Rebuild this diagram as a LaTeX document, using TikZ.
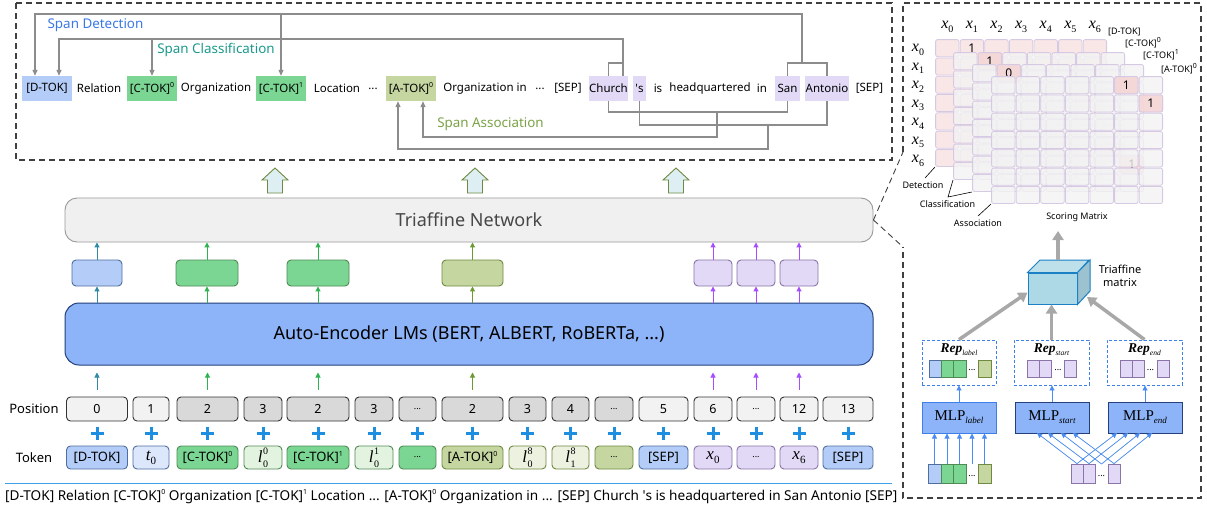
\documentclass[tikz,border=0pt]{standalone}
\usepackage{fontspec}
\setmainfont{Noto Sans}
\newfontfamily\seriffont{Liberation Serif}
\usetikzlibrary{arrows.meta}
\newcommand\fsz[1]{\fontsize{#1}{#1}\selectfont}
\newcommand\sps[1]{\raisebox{0.45em}{\fontsize{7}{7}\selectfont #1}}
\newcommand\dts{{\fsz{9}...}}
\newcommand\repx[1]{{\seriffont\bfseries\itshape\fsz{13.5}Rep}{\seriffont\itshape\fsz{7.5}\raisebox{-2.5pt}{#1}}}
\newcommand\mlpx[1]{{\seriffont\fsz{15}MLP}{\seriffont\itshape\fsz{9}\raisebox{-3pt}{#1}}}
\newcommand\ivar[4]{{\seriffont\itshape\fsz{#3}#1}{\seriffont\fsz{#4}\raisebox{-0.35em}{#2}}}
\newcommand\ivarss[5]{{\seriffont\itshape\fsz{#4}#1\kern0.5pt}{\seriffont\fsz{#5}\rlap{\raisebox{0.8em}{#3}}\raisebox{-0.45em}{#2}}}
\definecolor{cblue}{HTML}{B4CCF8}
\definecolor{cbluel}{HTML}{DCE7FC}
\definecolor{cgreen}{HTML}{7BD693}
\definecolor{cgreenl}{HTML}{E2F4E0}
\definecolor{colive}{HTML}{C5D6A0}
\definecolor{colivel}{HTML}{ECF1E0}
\definecolor{cpurp}{HTML}{E1D9F6}
\definecolor{bblue}{HTML}{4F6F9F}
\definecolor{bgreen}{HTML}{4F8A55}
\definecolor{bolive}{HTML}{6F8A40}
\definecolor{bpurp}{HTML}{8A74A8}
\definecolor{lmfill}{HTML}{8DB4F8}
\definecolor{lmdraw}{HTML}{23407A}
\definecolor{gline}{HTML}{8C8C8C}
\definecolor{ateal}{HTML}{2E8AA6}
\definecolor{agreen}{HTML}{2DB350}
\definecolor{aolive}{HTML}{6C9A32}
\definecolor{apurp}{HTML}{A64DFF}
\definecolor{plusc}{HTML}{1E8FE0}
\definecolor{pinkc}{HTML}{F9E7E7}
\definecolor{pinkd}{HTML}{F5D4D4}
\definecolor{gridc}{HTML}{D6C9E4}
\definecolor{cellg}{HTML}{F3F3F3}
\definecolor{repb}{HTML}{3C80E8}
\definecolor{blarrow}{HTML}{4A8CF0}
\definecolor{darrow}{HTML}{A8A8A8}
\definecolor{cubef}{HTML}{ADD8E6}
\definecolor{cubed}{HTML}{1C80C4}
\definecolor{spdet}{HTML}{3B78E7}
\definecolor{spcls}{HTML}{1A9A8C}
\definecolor{spass}{HTML}{7AA346}
\definecolor{hollowf}{HTML}{DDEFF3}
\definecolor{hollowd}{HTML}{6F8A40}
\definecolor{posl}{HTML}{F2F2F2}
\definecolor{posd}{HTML}{D9D9D9}
\newcommand\mtxlayer[4]{%
  \foreach \rr in {0,...,6}{\foreach \cc in {0,...,6}{%
    \filldraw[fill=#3,draw=gridc,line width=0.8pt,rounded corners=2pt,fill opacity=#4] ({#1+\cc*24.6+0.6},{#2+\rr*18.3+0.6}) rectangle ++(23.4,17.1);}}}
\newcommand\mcell[5]{%
  \filldraw[fill=#5,draw=gridc,line width=0.8pt,rounded corners=2pt,fill opacity=0.85] ({#1+#4*24.6+0.6},{#2+#3*18.3+0.6}) rectangle ++(23.4,17.1);}
\begin{document}
\begin{tikzpicture}[x=1pt,y=-1pt,
  gtip/.style={-{Triangle[length=6pt,width=5pt]}},
  gl/.style={draw=gline,line width=1.2pt},
  tk/.style={inner sep=0pt,minimum height=25pt,font=\fsz{11.5}},
  panel/.style={draw=black!75,line width=1.1pt,dash pattern=on 6pt off 4pt},
  vbox/.style={rounded corners=4pt,minimum height=26pt,inner sep=0pt,line width=0.9pt},
  posbox/.style={rounded corners=4pt,minimum height=24pt,inner sep=0pt,draw=black!80,line width=0.9pt,font=\fsz{12.5}},
  tokbox/.style={rounded corners=4pt,minimum height=23pt,inner sep=0pt,line width=0.9pt,font=\fsz{13}},
  sa/.style={line width=1pt,-{Triangle[length=5pt,width=5pt]}},
  cellbox/.style={inner sep=0pt,line width=0.8pt},
  ba/.style={draw=blarrow,line width=0.9pt,-{Triangle[length=5pt,width=5pt]}},
  bigarrow/.style={draw=darrow,line width=3.5pt,-{Triangle[length=9pt,width=11pt]}},
  lbl/.style={font=\fsz{9},inner sep=0pt},
]
\useasboundingbox (0,0) rectangle (1207,506);
\fill[white] (0,0) rectangle (1207,506);

% ---------------- top panel ----------------
\draw[panel] (16,3) rectangle (892,160);
\node[tk,fill=cblue,minimum width=50pt] (tdtok) at (47,88.5) {[D-TOK]};
\node[tk] (trel) at (99,88.5) {Relation};
\node[tk,fill=cgreen,minimum width=50pt] (tc0) at (152,88.5) {[C-TOK]\sps{0}};
\node[tk] (torg) at (216,88.5) {Organization};
\node[tk,fill=cgreen,minimum width=50pt] (tc1) at (281,88.5) {[C-TOK]\sps{1}};
\node[tk] (tloc) at (337,88.5) {Location};
\node[tk] (tdots1) at (373,88.5) {...};
\node[tk,fill=colive,minimum width=50pt] (ta0) at (411,88.5) {[A-TOK]\sps{0}};
\node[tk] (torgin) at (485,88.5) {Organization in};
\node[tk] (tdots2) at (540,88.5) {...};
\node[tk] (tsep1) at (568,88.5) {[SEP]};
\node[tk,fill=cpurp,minimum width=37pt] (tchurch) at (608.5,88.5) {Church};
\node[tk,fill=cpurp,minimum width=13pt] (tps) at (639.5,88.5) {\textquotesingle s};
\node[tk] (tis) at (658,88.5) {is};
\node[tk] (thq) at (710,88.5) {headquartered};
\node[tk] (tin) at (762,88.5) {in};
\node[tk,fill=cpurp,minimum width=25pt] (tsan) at (787.5,88.5) {San};
\node[tk,fill=cpurp,minimum width=44pt] (tant) at (827,88.5) {Antonio};
\node[tk] (tsep2) at (869.5,88.5) {[SEP]};

\node[font=\fsz{13.4},text=spdet,inner sep=0pt] (lspdet) at (95.5,25) {Span Detection};
\node[font=\fsz{13.4},text=spcls,inner sep=0pt] (lspcls) at (216,50) {Span Classification};
\node[font=\fsz{13.4},text=spass,inner sep=0pt] (lspass) at (490.5,124) {Span Association};

% detection
\draw[gl] (tsan.north) -- (787.5,63) -- (827,63) -- (tant.north);
\draw[gl,gtip] (802,63) -- (802,14) -- (35,14) -- ([xshift=-12pt]tdtok.north);
\draw[gl,gtip] (281,14) -- (tc1.north);
% classification
\draw[gl,gtip] ([xshift=14.5pt]tchurch.north) -- (623,39) -- (59,39) -- ([xshift=12pt]tdtok.north);
\draw[gl] (tchurch.north) -- (608.5,63) -- (623,63);
\draw[gl,gtip] (152,39) -- (tc0.north);
% association
\draw[gl] (tchurch.south) -- (608.5,112) -- (787.5,112) -- (tsan.south);
\draw[gl] (tps.south) -- (639.5,125) -- (827,125) -- (tant.south);
\draw[gl,gtip] (717,112) -- (717,137) -- (423,137) -- ([xshift=12pt]ta0.south);
\draw[gl,gtip] (768,125) -- (768,149) -- (398,149) -- ([xshift=-13pt]ta0.south);

% ---------------- middle ----------------
\foreach \x in {275,475,676}
  \filldraw[fill=hollowf,draw=hollowd,line width=0.9pt] (\x-7.5,193) -- (\x-7.5,180) -- (\x-13,180) -- (\x,168) -- (\x+13,180) -- (\x+7.5,180) -- (\x+7.5,193) -- cycle;

\node[draw=black!40,fill=black!6,rounded corners=12pt,minimum width=808pt,minimum height=44pt,line width=0.9pt,font=\fsz{18},text=black!72] (tri) at (469,220) {Triaffine Network};
\node[draw=lmdraw,fill=lmfill,rounded corners=14pt,minimum width=808pt,minimum height=62pt,line width=1pt,font=\fsz{18}] (lm) at (469,334) {Auto-Encoder LMs (BERT, ALBERT, RoBERTa, ...)};

\node[vbox,fill=cblue,draw=bblue,minimum width=50pt] (v1) at (97,273) {};
\node[vbox,fill=cgreen,draw=bgreen,minimum width=62pt] (v2) at (207,273) {};
\node[vbox,fill=cgreen,draw=bgreen,minimum width=62pt] (v3) at (318,273) {};
\node[vbox,fill=colive,draw=bolive,minimum width=61pt] (v4) at (472.5,273) {};
\node[vbox,fill=cpurp,draw=bpurp,minimum width=38pt] (v5) at (713,273) {};
\node[vbox,fill=cpurp,draw=bpurp,minimum width=38pt] (v6) at (756,273) {};
\node[vbox,fill=cpurp,draw=bpurp,minimum width=38pt] (v7) at (799,273) {};
\foreach \v/\cl in {v1/ateal,v2/agreen,v3/agreen,v4/aolive,v5/apurp,v6/apurp,v7/apurp}{
  \draw[sa,draw=\cl,fill=\cl] (\v.south |- lm.north) -- (\v.south);
  \draw[sa,draw=\cl,fill=\cl] (\v.north) -- (\v.north |- tri.south);
}

% ---------------- position / token rows ----------------
\node[font=\fsz{13},inner sep=0pt] (lpos) at (34,409) {Position};
\node[font=\fsz{13},inner sep=0pt] (ltok) at (34,457.5) {Token};
\foreach \x/\w/\tx/\fl [count=\i] in {97/61/0/posl, 151/36/1/posl, 207.5/61/2/posd, 263/38/3/posd, 318/62/2/posd, 374/38/3/posd, 417.5/37/{\dts}/posd, 472.5/61/2/posd, 527.5/37/3/posd, 570.5/37/4/posd, 614/38/{\dts}/posd, 663.5/49/5/posl, 713/38/6/posl, 756/38/{\dts}/posl, 799/38/12/posl, 848/50/13/posl}{
  \node[posbox,fill=\fl,minimum width=\w pt] (p\i) at (\x,409) {\tx};
  \draw[plusc,line width=3pt] (\x-6.5,433) -- (\x+6.5,433) (\x,426.5) -- (\x,439.5);
}
\foreach \x/\w/\fl/\dr/\tx [count=\i] in {97/61/cblue/bblue/{[D-TOK]}, 151/36/cbluel/bblue/{\ivar{t}{0}{17}{11}}, 207.5/61/cgreen/bgreen/{[C-TOK]\sps{0}}, 263/38/cgreenl/bgreen/{\ivarss{l}{0}{0}{17}{10}}, 318/62/cgreen/bgreen/{[C-TOK]\sps{1}}, 374/38/cgreenl/bgreen/{\ivarss{l}{0}{1}{17}{10}}, 417.5/37/cgreen/bgreen/{\dts}, 472.5/61/colive/bolive/{[A-TOK]\sps{0}}, 527.5/37/colivel/bolive/{\ivarss{l}{0}{8}{17}{10}}, 570.5/37/colivel/bolive/{\ivarss{l}{1}{8}{17}{10}}, 614/38/colive/bolive/{\dts}, 663.5/49/cblue/bblue/{[SEP]}, 713/38/cpurp/bpurp/{\ivar{x}{0}{17}{11}}, 756/38/cpurp/bpurp/{\dts}, 799/38/cpurp/bpurp/{\ivar{x}{6}{17}{11}}, 848/50/cblue/bblue/{[SEP]}}{
  \node[tokbox,fill=\fl,draw=\dr,minimum width=\w pt] (k\i) at (\x,457.5) {\tx};
}
\foreach \i/\cl in {1/ateal,3/agreen,5/agreen,8/aolive,13/apurp,14/apurp,15/apurp}
  \draw[sa,draw=\cl,fill=\cl,shorten <=7pt,shorten >=7pt] (p\i.north) -- (p\i.north |- lm.south);

\draw[draw=plusc!85,line width=1pt] (5,483) -- (892,483);
\node[anchor=west,font=\fsz{13.6},inner sep=0pt] (sent) at (5,497) {[D-TOK] Relation [C-TOK]\sps{0} Organization [C-TOK]\sps{1} Location ... [A-TOK]\sps{0} Organization in ... [SEP] Church \textquotesingle s is headquartered in San Antonio [SEP]};

% ---------------- right panel ----------------
\draw[panel] (903,152) -- (903,3) -- (1201,3) -- (1201,498) -- (903,498) -- (903,247);
\draw[panel,line width=0.9pt] (tri.east) -- (903,152);
\draw[panel,line width=0.9pt] (tri.east) -- (903,247);

% scoring matrix layers
\mtxlayer{935}{39}{pinkc}{1}
\node[font=\fsz{12},inner sep=0pt] (n1) at (971.9,48.2) {1};
\mtxlayer{953}{52}{cellg}{0.8}
\mcell{953}{52}{0}{1}{pinkd}
\mcell{953}{52}{5}{6}{pinkd}
\node[font=\fsz{12},inner sep=0pt] (n2) at (989.9,61.2) {1};
\node[font=\fsz{12},inner sep=0pt] (n2b) at (1112.9,152.7) {1};
\mtxlayer{972}{64}{cellg}{0.8}
\mcell{972}{64}{0}{1}{pinkd}
\mcell{972}{64}{5}{6}{pinkd}
\node[font=\fsz{12},inner sep=0pt] (n3) at (1008.9,73.2) {0};
\node[font=\fsz{12},inner sep=0pt] (n3b) at (1131.9,164.7) {1};
\mtxlayer{991}{76}{cellg}{0.8}
\mcell{991}{76}{0}{5}{pinkd}
\mcell{991}{76}{1}{6}{pinkd}
\node[font=\fsz{12},inner sep=0pt] (n4) at (1126.3,85.2) {1};
\node[font=\fsz{12},inner sep=0pt] (n4b) at (1150.9,103.5) {1};

\foreach \i in {0,...,6}{
  \node[inner sep=0pt] (ch\i) at ({935+24.6*(\i+0.5)},27) {\ivar{x}{\i}{16}{10}};
  \node[inner sep=0pt] (rh\i) at (918,{50+18.5*\i}) {\ivar{x}{\i}{16}{10}};
}
\node[lbl,anchor=west] (lyd) at (1108,32) {[D-TOK]};
\node[lbl,anchor=west] (lyc0) at (1125,43) {[C-TOK]\sps{0}};
\node[lbl,anchor=west] (lyc1) at (1143,55) {[C-TOK]\sps{1}};
\node[lbl,anchor=west] (lya) at (1161,69) {[A-TOK]\sps{0}};

\node[lbl] (ldet) at (923,185) {Detection};
\node[lbl] (lcls) at (947.5,204) {Classification};
\node[lbl] (lass) at (978,223) {Association};
\node[lbl] (lsm) at (1077,217) {Scoring Matrix};
\draw[line width=0.6pt] (925,178) -- (935,167);
\draw[line width=0.6pt] (972,192) -- (948,197) -- (953,180);
\draw[line width=0.6pt] (978,216) -- (991,204);

% cube
\node[minimum width=49pt,minimum height=31pt,fill=cubef,draw=cubed,inner sep=0pt,line width=1pt] (cube) at (1052.5,288.5) {};
\filldraw[fill=cubef!80!white,draw=cubed,line width=1pt] (cube.north west) -- ++(12.5,-12.5) -- ++(49,0) -- (cube.north east) -- cycle;
\filldraw[fill=cubef!90!black,draw=cubed,line width=1pt] (cube.north east) -- ++(12.5,-12.5) -- ++(0,31) -- (cube.south east) -- cycle;
\node[font=\fontsize{11}{13}\selectfont,align=center,inner sep=0pt] (ltm) at (1120,276) {Triaffine\\matrix};

% rep boxes
\node[draw=repb,dash pattern=on 3pt off 2pt,line width=0.9pt,minimum width=74pt,minimum height=45pt,inner sep=0pt] (rl) at (959,362.5) {};
\node[draw=repb,dash pattern=on 3pt off 2pt,line width=0.9pt,minimum width=75pt,minimum height=45pt,inner sep=0pt] (rs) at (1051.5,362.5) {};
\node[draw=repb,dash pattern=on 3pt off 2pt,line width=0.9pt,minimum width=75pt,minimum height=45pt,inner sep=0pt] (re) at (1144.5,362.5) {};
\node[inner sep=0pt] (rlt) at (959,350) {\repx{label}};
\node[inner sep=0pt] (rst) at (1051.5,350) {\repx{start}};
\node[inner sep=0pt] (ret) at (1144.5,350) {\repx{end}};

\foreach \x/\w/\fl/\dr [count=\i] in {935/12/cblue/bblue, 947/12/cgreen/bgreen, 959.5/13/cgreen/bgreen, 984.5/13/colive/bolive}
  \node[cellbox,fill=\fl,draw=\dr,minimum width=\w pt,minimum height=17pt] (rlc\i) at (\x,368.5) {};
\node[lbl] (rld) at (972,370) {...};
\foreach \x [count=\i] in {1033.5,1045.5,1070.5}
  \node[cellbox,fill=cpurp,draw=bpurp,minimum width=12pt,minimum height=17pt] (rsc\i) at (\x,368.5) {};
\node[lbl] (rsd) at (1058,370) {...};
\foreach \x [count=\i] in {1126.5,1138,1163}
  \node[cellbox,fill=cpurp,draw=bpurp,minimum width=12pt,minimum height=17pt] (rec\i) at (\x,368.5) {};
\node[lbl] (red) at (1150.5,370) {...};

% big arrows into cube
\draw[bigarrow] (1058,260) -- (1058,231);
\draw[bigarrow] (rl.north) -- ([yshift=-4pt]cube.west);
\draw[bigarrow] (rs.north) -- (rs.north |- cube.south);
\draw[bigarrow] (re.north) -- (1087,297);

% MLPs
\node[fill=lmfill,draw=repb,line width=1pt,minimum width=74pt,minimum height=31pt,inner sep=0pt] (ml) at (959,417.5) {\mlpx{label}};
\node[fill=lmfill,draw=lmdraw,line width=1pt,minimum width=74pt,minimum height=31pt,inner sep=0pt] (ms) at (1052,417.5) {\mlpx{start}};
\node[fill=lmfill,draw=lmdraw,line width=1pt,minimum width=74pt,minimum height=31pt,inner sep=0pt] (me) at (1145,417.5) {\mlpx{end}};
\draw[ba,fill=blarrow] (ml.north) -- (rl.south);
\draw[ba,fill=blarrow] (ms.north) -- (ms.north |- rs.south);
\draw[ba,fill=blarrow] (me.north) -- (me.north |- re.south);

% inputs
\foreach \x/\w/\fl/\dr [count=\i] in {934.5/13/cblue/bblue, 947/12/cgreen/bgreen, 959.5/13/cgreen/bgreen, 984.5/13/colive/bolive}
  \node[cellbox,fill=\fl,draw=\dr,minimum width=\w pt,minimum height=19pt] (il\i) at (\x,473.5) {};
\node[lbl] (ild) at (972,476) {...};
\coordinate (ildt) at (972,464);
\foreach \n in {il1,il2,il3,ildt,il4}
  \draw[ba,fill=blarrow] (\n.north) -- (\n.north |- ml.south);
\foreach \x [count=\i] in {1077,1089,1114}
  \node[cellbox,fill=cpurp,draw=bpurp,minimum width=12pt,minimum height=19pt] (ip\i) at (\x,473.5) {};
\node[lbl] (ipd) at (1101.5,476) {...};
\coordinate (ipdt) at (1101.5,464);
\foreach \n/\a/\b in {ip1/1037/1117, ip2/1048/1128, ipdt/1061/1140, ip3/1073/1152}{
  \draw[ba,fill=blarrow,line width=0.7pt] (\n.north) -- (\a,433);
  \draw[ba,fill=blarrow,line width=0.7pt] (\n.north) -- (\b,433);
}
\end{tikzpicture}
\end{document}
